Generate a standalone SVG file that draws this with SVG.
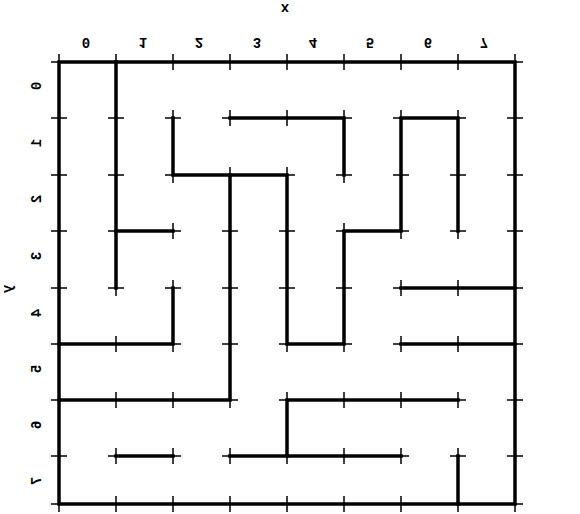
<svg xmlns="http://www.w3.org/2000/svg" width="580" height="514" viewBox="0 0 580 514">
<style>
.wall{fill:none;stroke:#000;stroke-width:3.5;stroke-linecap:square;stroke-linejoin:miter}
.tick{fill:none;stroke:#000;stroke-width:1.5}
.lbl{font-family:"Liberation Mono","DejaVu Sans Mono",monospace;font-size:14px;font-weight:bold;fill:#000;text-anchor:middle;dominant-baseline:central}
</style>
<rect width="580" height="514" fill="#fff"/>
<g id="ticks">
<path class="tick" d="M51 62h16m41 0h16m41 0h16m41 0h16m41 0h16m41 0h16m41 0h16m41 0h16m41 0h16
M51 118h16m41 0h16m41 0h16m41 0h16m41 0h16m41 0h16m41 0h16m41 0h16m41 0h16
M51 175h16m41 0h16m41 0h16m41 0h16m41 0h16m41 0h16m41 0h16m41 0h16m41 0h16
M51 231h16m41 0h16m41 0h16m41 0h16m41 0h16m41 0h16m41 0h16m41 0h16m41 0h16
M51 288h16m41 0h16m41 0h16m41 0h16m41 0h16m41 0h16m41 0h16m41 0h16m41 0h16
M51 344h16m41 0h16m41 0h16m41 0h16m41 0h16m41 0h16m41 0h16m41 0h16m41 0h16
M51 400h16m41 0h16m41 0h16m41 0h16m41 0h16m41 0h16m41 0h16m41 0h16m41 0h16
M51 456h16m41 0h16m41 0h16m41 0h16m41 0h16m41 0h16m41 0h16m41 0h16m41 0h16
M51 504h16m41 0h16m41 0h16m41 0h16m41 0h16m41 0h16m41 0h16m41 0h16m41 0h16
M59 54v16m0 40v16m0 41v16m0 40v16m0 41v16m0 40v16m0 40v16m0 40v16m0 32v16
M116 54v16m0 40v16m0 41v16m0 40v16m0 41v16m0 40v16m0 40v16m0 40v16m0 32v16
M173 54v16m0 40v16m0 41v16m0 40v16m0 41v16m0 40v16m0 40v16m0 40v16m0 32v16
M230 54v16m0 40v16m0 41v16m0 40v16m0 41v16m0 40v16m0 40v16m0 40v16m0 32v16
M287 54v16m0 40v16m0 41v16m0 40v16m0 41v16m0 40v16m0 40v16m0 40v16m0 32v16
M344 54v16m0 40v16m0 41v16m0 40v16m0 41v16m0 40v16m0 40v16m0 40v16m0 32v16
M401 54v16m0 40v16m0 41v16m0 40v16m0 41v16m0 40v16m0 40v16m0 40v16m0 32v16
M458 54v16m0 40v16m0 41v16m0 40v16m0 41v16m0 40v16m0 40v16m0 40v16m0 32v16
M515 54v16m0 40v16m0 41v16m0 40v16m0 41v16m0 40v16m0 40v16m0 40v16m0 32v16"/>
</g>
<g id="walls">
<path class="wall" d="M59 62H515V504H59Z"/>
<path class="wall" d="M116 62V288"/>
<path class="wall" d="M116 231H173"/>
<path class="wall" d="M173 118V175H287V344H344V231H401V118H458V231"/>
<path class="wall" d="M230 118H344V175"/>
<path class="wall" d="M230 175V400H59"/>
<path class="wall" d="M59 344H173V288"/>
<path class="wall" d="M116 456H173"/>
<path class="wall" d="M230 456H401"/>
<path class="wall" d="M287 456V400H458"/>
<path class="wall" d="M401 288H515"/>
<path class="wall" d="M401 344H515"/>
<path class="wall" d="M458 456V504"/>
</g>
<g id="labels">
<text class="lbl" transform="translate(285,8) scale(1,-1)">x</text>
<text class="lbl" transform="translate(86,42) scale(1,-1)">0</text>
<text class="lbl" transform="translate(143,42) scale(1,-1)">1</text>
<text class="lbl" transform="translate(199,42) scale(1,-1)">2</text>
<text class="lbl" transform="translate(257,42) scale(1,-1)">3</text>
<text class="lbl" transform="translate(313,42) scale(1,-1)">4</text>
<text class="lbl" transform="translate(370,42) scale(1,-1)">5</text>
<text class="lbl" transform="translate(428,42) scale(1,-1)">6</text>
<text class="lbl" transform="translate(484,42) scale(1,-1)">7</text>
<text class="lbl" transform="translate(8,289) matrix(0 1 1 0 0 0)">y</text>
<text class="lbl" transform="translate(37,86) matrix(0 1 1 0 0 0)">0</text>
<text class="lbl" transform="translate(37,143) matrix(0 1 1 0 0 0)">1</text>
<text class="lbl" transform="translate(37,199) matrix(0 1 1 0 0 0)">2</text>
<text class="lbl" transform="translate(37,256) matrix(0 1 1 0 0 0)">3</text>
<text class="lbl" transform="translate(37,313) matrix(0 1 1 0 0 0)">4</text>
<text class="lbl" transform="translate(37,369) matrix(0 1 1 0 0 0)">5</text>
<text class="lbl" transform="translate(37,425) matrix(0 1 1 0 0 0)">6</text>
<text class="lbl" transform="translate(37,481) matrix(0 1 1 0 0 0)">7</text>
</g>
</svg>
